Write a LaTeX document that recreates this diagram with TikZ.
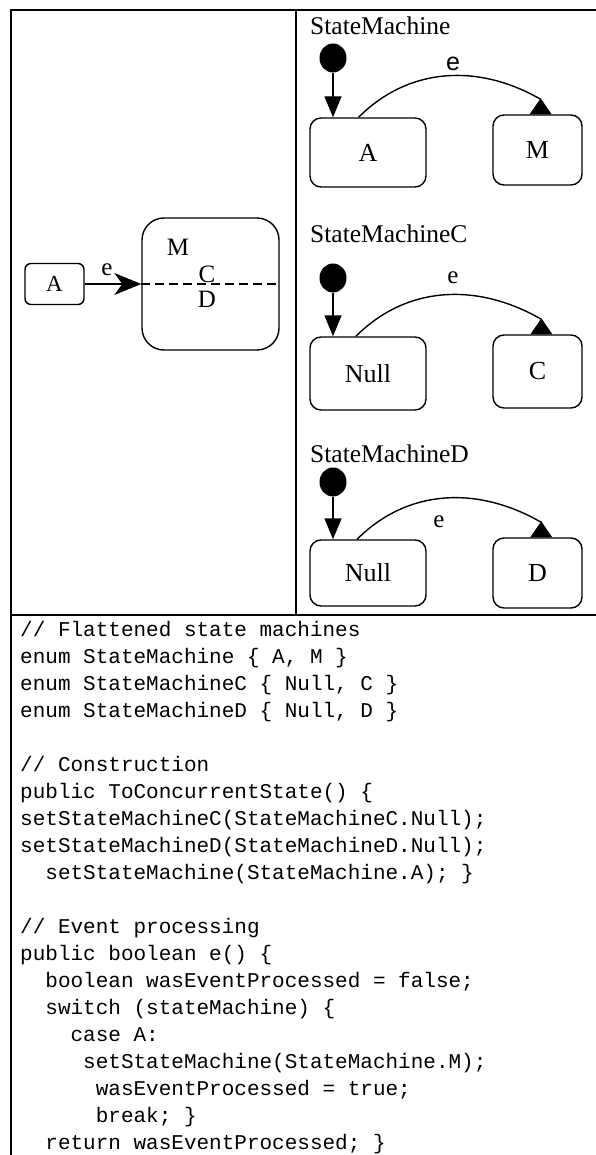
\documentclass[tikz,border=0pt]{standalone}
\usepackage{fontspec}
\setmainfont{Liberation Serif}
\setmonofont{Liberation Mono}
\newfontfamily\arialfont{Liberation Sans}
\usetikzlibrary{arrows.meta,shapes.geometric}

\begin{document}
\begin{tikzpicture}[x=1pt,y=1pt,
    frame/.style={line width=1.9pt},
    state/.style={draw,line width=1.4pt,rounded corners=11pt,inner sep=0pt,
      font=\fontsize{26}{30}\selectfont},
    init/.style={ellipse,fill,minimum width=27pt,minimum height=29pt,inner sep=0pt},
    title/.style={anchor=base west,inner sep=0pt,font=\fontsize{25.5}{30}\selectfont},
    lbl/.style={inner sep=0pt,font=\fontsize{25}{29}\selectfont},
    start/.style={line width=1.4pt,-{Triangle[length=21pt,width=17pt]}},
    trans/.style={line width=1.4pt},
    code/.style={anchor=north west,inner sep=0pt,align=left,
      font=\fontsize{21}{27}\selectfont\ttfamily}]
  \useasboundingbox (0,0) rectangle (596,-1155);

  % frame
  \draw[frame] (596,-10) -- (11,-10) -- (11,-1155);
  \draw[frame] (296,-10) -- (296,-615);
  \draw[frame] (11,-615) -- (596,-615);

  % concurrent state
  \node[state,rounded corners=6pt,minimum width=59pt,minimum height=41pt,
    font=\fontsize{23}{27}\selectfont] (la) at (54.5,-284) {A};
  \node[state,rounded corners=22pt,minimum width=137pt,minimum height=132pt] (big) at (210.5,-284) {};
  \draw[line width=1.4pt,dash pattern=on 9pt off 5pt] (big.west) -- (big.east);
  \node[lbl] (bm) at (178,-247) {M};
  \node[lbl] (bc) at (207,-274) {C};
  \node[lbl] (bd) at (207,-299) {D};
  \draw[line width=1.4pt,-{Stealth[length=27pt,width=22pt,inset=8pt]}] (la.east) -- (la.east -| big.west);
  \node[lbl] (le) at (107,-270) {e};

  % StateMachine
  \node[title] (t1) at (310,-35) {StateMachine};
  \node[init] (i1) at (333,-58) {};
  \node[state,minimum width=116pt,minimum height=69pt] (a1) at (368,-152.5) {A};
  \node[state,minimum width=89pt,minimum height=70pt] (m1) at (537.5,-150) {M};
  \draw[start] (i1) -- (i1 |- a1.north);
  \draw[trans] (a1.105) to[out=45,in=150] ([yshift=15pt]m1.85);
  \fill (m1.85) +(-11,0) -- +(11,0) -- +(0,16) -- cycle;
  \node[lbl,font=\arialfont\fontsize{25}{29}\selectfont] (e1) at (453,-64) {e};

  % StateMachineC
  \node[title] (t2) at (310,-243) {StateMachineC};
  \node[init] (i2) at (333,-278) {};
  \node[state,minimum width=116pt,minimum height=73pt] (n2) at (368,-373.5) {Null};
  \node[state,minimum width=89pt,minimum height=73pt] (c2) at (537.5,-371.5) {C};
  \draw[start] (i2) -- (i2 |- n2.north);
  \draw[trans] (n2.108) to[out=45,in=150] ([yshift=15pt]c2.84);
  \fill (c2.84) +(-11,0) -- +(11,0) -- +(0,16) -- cycle;
  \node[lbl] (e2) at (453,-278) {e};

  % StateMachineD
  \node[title] (t3) at (310,-462) {StateMachineD};
  \node[init] (i3) at (333,-482) {};
  \node[state,minimum width=116pt,minimum height=66pt] (n3) at (368,-573) {Null};
  \node[state,minimum width=89pt,minimum height=70pt] (d3) at (537.5,-573) {D};
  \draw[start] (i3) -- (i3 |- n3.north);
  \draw[trans] (n3.108) to[out=45,in=150] ([yshift=15pt]d3.84);
  \fill (d3.84) +(-11,0) -- +(11,0) -- +(0,16) -- cycle;
  \node[lbl] (e3) at (439,-522) {e};

  % generated code
  \node[code] (src) at (20,-621) {%
// Flattened state machines\\
enum StateMachine \{ A, M \}\\
enum StateMachineC \{ Null, C \}\\
enum StateMachineD \{ Null, D \}\\
~\\
// Construction\\
public ToConcurrentState() \{\\
setStateMachineC(StateMachineC.Null);\\
setStateMachineD(StateMachineD.Null);\\
~~setStateMachine(StateMachine.A); \}\\
~\\
// Event processing\\
public boolean e() \{\\
~~boolean wasEventProcessed = false;\\
~~switch (stateMachine) \{\\
~~~~case A:\\
~~~~~setStateMachine(StateMachine.M);\\
~~~~~~wasEventProcessed = true;\\
~~~~~~break; \}\\
~~return wasEventProcessed; \}};
\end{tikzpicture}
\end{document}
